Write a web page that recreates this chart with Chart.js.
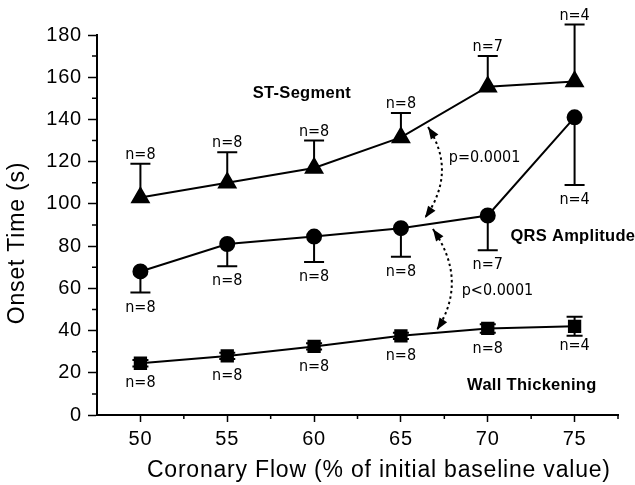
<!DOCTYPE html>
<html>
<head>
<meta charset="utf-8">
<script src="https://cdn.jsdelivr.net/npm/chart.js@4/dist/chart.umd.min.js"></script>
<style>
  html, body { margin: 0; padding: 0; background: #fff; }
  #wrap { width: 635px; height: 485px; }
</style>
</head>
<body>
<div id="wrap"><canvas id="chart" width="635" height="485"></canvas></div>
<script>
// coronary flow (% of baseline)
var flow = [50, 55, 60, 65, 70, 75];

// ST-Segment, only the upper error bar is shown
var stMean = [103, 110, 117, 131.5, 155.5, 158];
var stErr  = [16, 14.5, 13, 11.5, 14.5, 27];
var stN    = [8, 8, 8, 8, 7, 4];

// QRS amplitude, only the lower error bar is shown
var qrsMean = [68, 81, 84.5, 88.5, 94.5, 141];
var qrsErr  = [10, 10.5, 12, 13.5, 16.5, 32];
var qrsN    = [8, 8, 8, 8, 7, 4];

// wall thickening, small bars both ways
var wtMean = [24.5, 28, 32.5, 37.5, 41, 42];
var wtErr  = [1.5, 1.5, 1.5, 1.5, 2, 4.5];
var wtN    = [8, 8, 8, 8, 8, 4];

var yTicks = [0, 20, 40, 60, 80, 100, 120, 140, 160, 180];
var yMinor = [10, 30, 50, 70, 90, 110, 130, 150, 170];
var xMinor = [52.5, 57.5, 62.5, 67.5, 72.5, 77.5];

function pts(ys){
    return flow.map(function(x, i){ return {x: x, y: ys[i]}; });
}

var narrow = '"Liberation Sans Narrow", "DejaVu Sans Condensed", sans-serif';
var sans = '"Liberation Sans", Arial, sans-serif';

// the scanned lettering is a bit wider than Arial
var spacing = {
    id: 'spacing',
    beforeDraw: function(chart){
        chart.ctx.letterSpacing = '0.8px';
    }
};

// error bars, n labels, minor ticks and annotations
var extras = {
    id: 'extras',
    afterDatasetsDraw: function(chart){
        var ctx = chart.ctx;
        var xs = chart.scales.x, ys = chart.scales.y;
        var X = function(v){ return xs.getPixelForValue(v); };
        var Y = function(v){ return ys.getPixelForValue(v); };
        ctx.save();
        ctx.strokeStyle = '#000';
        ctx.fillStyle = '#000';
        ctx.lineWidth = 2;
        ctx.letterSpacing = '0px';

        function bar(x, y0, y1, cap){
            ctx.beginPath();
            ctx.moveTo(X(x), Y(y0));
            ctx.lineTo(X(x), Y(y1));
            ctx.moveTo(X(x) - cap, Y(y1));
            ctx.lineTo(X(x) + cap, Y(y1));
            ctx.stroke();
        }
        ctx.font = '16px ' + narrow;
        ctx.textAlign = 'center';
        ctx.textBaseline = 'middle';
        flow.forEach(function(x, i){
            bar(x, stMean[i], stMean[i] + stErr[i], 10);
            ctx.fillText('n=' + stN[i], X(x), Y(stMean[i] + stErr[i]) - 9);

            bar(x, qrsMean[i], qrsMean[i] - qrsErr[i], 10);
            ctx.fillText('n=' + qrsN[i], X(x), Y(qrsMean[i] - qrsErr[i]) + 15);

            bar(x, wtMean[i], wtMean[i] + wtErr[i], 8);
            bar(x, wtMean[i], wtMean[i] - wtErr[i], 8);
            ctx.fillText('n=' + wtN[i], X(x), Y(wtMean[i]) + 20);
        });

        // minor ticks
        ctx.lineWidth = 1.5;
        ctx.beginPath();
        yMinor.forEach(function(v){
            ctx.moveTo(xs.left - 5, Y(v));
            ctx.lineTo(xs.left, Y(v));
        });
        xMinor.forEach(function(v){
            ctx.moveTo(X(v), ys.bottom);
            ctx.lineTo(X(v), ys.bottom + 4);
        });
        ctx.stroke();

        // series names
        ctx.font = 'bold 16.5px ' + sans;
        ctx.letterSpacing = '0.3px';
        ctx.fillText('ST-Segment', X(59.3), Y(152.5));
        ctx.fillText('QRS Amplitude', X(74.9), Y(84.8));
        ctx.fillText('Wall Thickening', X(72.54), Y(14.2));
        ctx.letterSpacing = '0px';

        // p values
        ctx.font = '16px ' + narrow;
        ctx.textAlign = 'left';
        ctx.fillText('p=0.0001', X(67.76), Y(121.7));
        ctx.fillText('p<0.0001', X(68.5), Y(58.7));

        // dotted double arrows
        function arrow(a, c, b){
            var p0 = {x: X(a[0]), y: Y(a[1])};
            var pc = {x: X(c[0]), y: Y(c[1])};
            var p1 = {x: X(b[0]), y: Y(b[1])};
            ctx.lineWidth = 2;
            ctx.setLineDash([2.5, 3]);
            ctx.beginPath();
            ctx.moveTo(p0.x, p0.y);
            ctx.quadraticCurveTo(pc.x, pc.y, p1.x, p1.y);
            ctx.stroke();
            ctx.setLineDash([]);
            head(p0, pc);
            head(p1, pc);
        }
        function head(tip, from){
            var ang = Math.atan2(tip.y - from.y, tip.x - from.x);
            var len = 12, w = 4.5;
            ctx.beginPath();
            ctx.moveTo(tip.x, tip.y);
            ctx.lineTo(tip.x - len * Math.cos(ang) + w * Math.sin(ang), tip.y - len * Math.sin(ang) - w * Math.cos(ang));
            ctx.lineTo(tip.x - len * Math.cos(ang) - w * Math.sin(ang), tip.y - len * Math.sin(ang) + w * Math.cos(ang));
            ctx.closePath();
            ctx.fill();
        }
        arrow([66.56, 136.4], [68.25, 115.2], [66.38, 93.3]);
        arrow([66.84, 88.1], [68.9, 63.8], [67.07, 40.3]);

        ctx.restore();
    }
};

new Chart(document.getElementById('chart'), {
    type: 'scatter',
    data: {
        datasets: [
            {
                data: pts(stMean),
                showLine: true,
                borderColor: '#000',
                backgroundColor: '#000',
                borderWidth: 2,
                pointStyle: 'triangle',
                pointRadius: 9.5,
                clip: false
            },
            {
                data: pts(qrsMean),
                showLine: true,
                borderColor: '#000',
                backgroundColor: '#000',
                borderWidth: 2,
                pointStyle: 'circle',
                pointRadius: 7,
                clip: false
            },
            {
                data: pts(wtMean),
                showLine: true,
                borderColor: '#000',
                backgroundColor: '#000',
                borderWidth: 2,
                pointStyle: 'rect',
                pointRadius: 8,
                clip: false
            }
        ]
    },
    options: {
        responsive: false,
        animation: false,
        layout: { padding: { top: 35, right: 17, bottom: 1, left: 0 } },
        plugins: {
            legend: { display: false },
            tooltip: { enabled: false }
        },
        scales: {
            x: {
                type: 'linear',
                min: 47.5,
                max: 77.5,
                ticks: {
                    stepSize: 5,
                    color: '#000',
                    padding: 5,
                    maxRotation: 0,
                    font: { family: sans, size: 20 }
                },
                afterBuildTicks: function(scale){
                    scale.ticks = flow.map(function(v){ return {value: v}; });
                },
                afterFit: function(scale){ scale.height = 69; },
                grid: {
                    drawOnChartArea: false,
                    drawTicks: true,
                    tickLength: 7,
                    tickColor: '#000',
                    tickWidth: 1.5
                },
                border: { color: '#000', width: 2 },
                title: {
                    display: true,
                    align: 'end',
                    text: 'Coronary Flow (% of initial baseline value) ',
                    color: '#000',
                    padding: 0,
                    font: { family: sans, size: 23 }
                }
            },
            y: {
                min: 0,
                max: 180,
                ticks: {
                    stepSize: 20,
                    color: '#000',
                    padding: 6,
                    font: { family: sans, size: 20 }
                },
                afterBuildTicks: function(scale){
                    scale.ticks = yTicks.map(function(v){ return {value: v}; });
                },
                afterFit: function(scale){ scale.width = 97; },
                grid: {
                    drawOnChartArea: false,
                    drawTicks: true,
                    tickLength: 9,
                    tickColor: '#000',
                    tickWidth: 1.5
                },
                border: { color: '#000', width: 2 },
                title: {
                    display: true,
                    text: 'Onset Time (s)     ',
                    color: '#000',
                    padding: 4,
                    font: { family: sans, size: 23 }
                }
            }
        }
    },
    plugins: [spacing, extras]
});
</script>
</body>
</html>
